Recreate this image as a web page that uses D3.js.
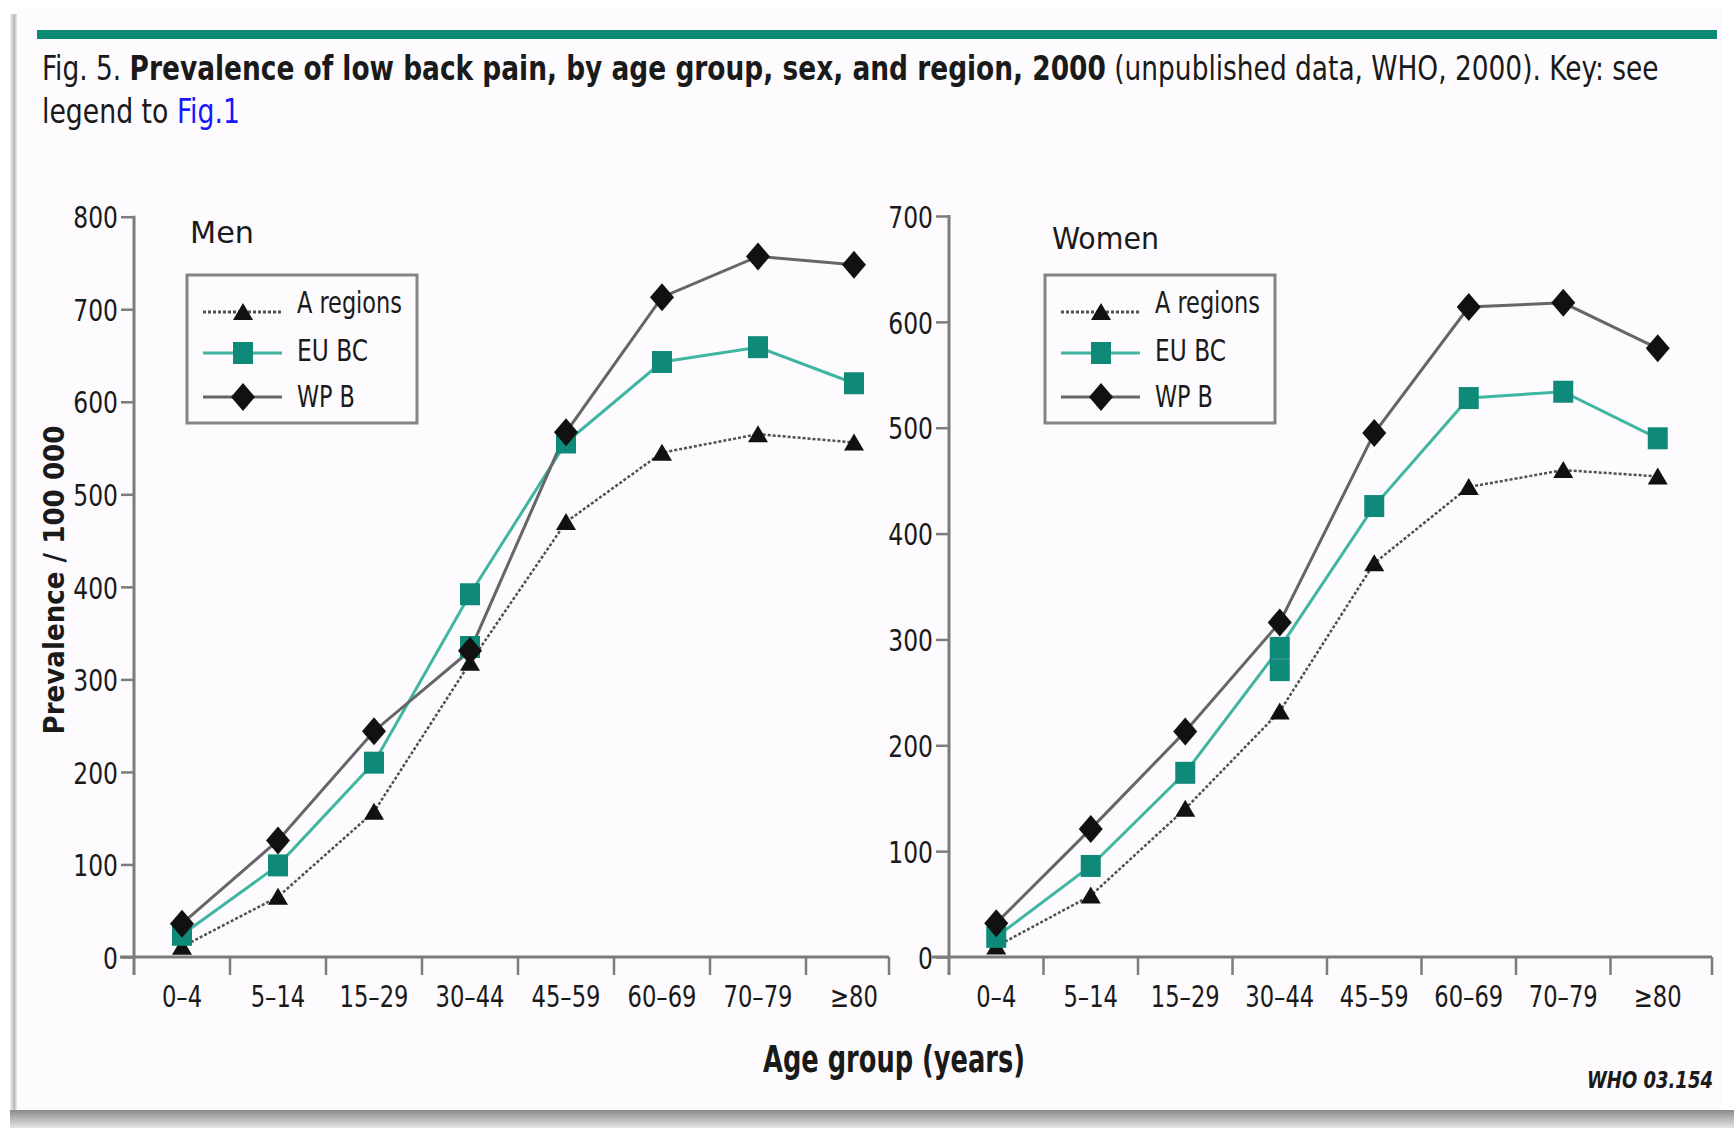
<!DOCTYPE html>
<html>
<head>
<meta charset="utf-8">
<script src="https://cdn.jsdelivr.net/npm/d3@7"></script>
<style>
  html, body { margin: 0; padding: 0; background: #fff; }
  svg { display: block; }
  text { font-family: "DejaVu Sans Condensed", "DejaVu Sans", sans-serif; font-stretch: condensed; }
</style>
</head>
<body>
<svg id="chart" width="1734" height="1128"></svg>
<script>
// ---- data ----
const ageGroups = ["0–4", "5–14", "15–29", "30–44", "45–59", "60–69", "70–79", "≥80"];

const menARegions = [11, 65, 157, 318, 470, 545, 565, 556];
const menEUBC     = [24, 99, 210, 392, 556, 643, 659, 620];
const menWPB      = [36, 126, 244, 331, 567, 713, 757, 748];
const menEUBCExtra = [["30–44", 335]];   // second square printed at 30–44

const womenARegions = [10, 58, 140, 232, 372, 444, 460, 454];
const womenEUBC     = [19, 86, 174, 292, 426, 528, 534, 490];
const womenWPB      = [32, 121, 213, 316, 495, 614, 618, 575];
const womenEUBCExtra = [["30–44", 271]];

const menTicks   = [0, 100, 200, 300, 400, 500, 600, 700, 800];
const womenTicks = [0, 100, 200, 300, 400, 500, 600, 700];

const seriesNames = ["A regions", "EU BC", "WP B"];

// ---- drawing ----
const w = 1734, h = 1128;
const base = 957;      // y of the zero line, both panels
const axisBottomY = 975;
const ink = "#1a1a1a";
const axisCol = "#7c7c7c";
const tealMark = "#0f8a78";
const tealLine = "#3fb5a2";
const grayLine = "#666";
const k = 0.84;        // horizontal squeeze for the condensed face

const svg = d3.select("#chart");

// put a text in a group, then squeeze the group to the width seen in the figure
const squeeze = (g, x, y, width, extra) => {
  const bw = g.node().getBBox().width;
  g.attr("transform", `translate(${x},${y})${extra || ""} scale(${width / bw},1)`);
};

const defs = svg.append("defs");
const gB = defs.append("linearGradient").attr("id", "shadowB").attr("x1", 0).attr("x2", 0).attr("y1", 0).attr("y2", 1);
gB.append("stop").attr("offset", 0).attr("stop-color", "#8a8a8a");
gB.append("stop").attr("offset", 1).attr("stop-color", "#e6e6e6");
const gL = defs.append("linearGradient").attr("id", "shadowL");
gL.append("stop").attr("offset", 0).attr("stop-color", "#f2f2f2");
gL.append("stop").attr("offset", 0.6).attr("stop-color", "#b9b9b9");
gL.append("stop").attr("offset", 1).attr("stop-color", "#e9e9e9");

svg.append("rect").attr("width", w).attr("height", h).attr("fill", "#fff");
svg.append("rect").attr("x", 10).attr("y", 14).attr("width", 7).attr("height", 1098).attr("fill", "url(#shadowL)");
svg.append("rect").attr("x", 17).attr("y", 8).attr("width", 1705).attr("height", 1102).attr("fill", "#fdfbfd");
svg.append("rect").attr("x", 10).attr("y", 1110).attr("width", 1724).attr("height", 18).attr("fill", "url(#shadowB)");

// top rule
svg.append("rect").attr("x", 37).attr("y", 30).attr("width", 1680).attr("height", 9).attr("fill", "#0b8a75");

// caption
const c1 = svg.append("g");
const t1 = c1.append("text").attr("font-size", 34).attr("fill", ink);
t1.append("tspan").text("Fig. 5. ");
t1.append("tspan").attr("font-weight", "bold").text("Prevalence of low back pain, by age group, sex, and region, 2000");
t1.append("tspan").text(" (unpublished data, WHO, 2000). Key: see");
squeeze(c1, 42, 80, 1617);

const c2 = svg.append("g");
const t2 = c2.append("text").attr("font-size", 34).attr("fill", ink);
t2.append("tspan").text("legend to ");
t2.append("tspan").attr("fill", "#1616ff").text("Fig.1");
squeeze(c2, 42, 123, 198);

// marker shapes
const shapes = {
  tri: "M0,-9L10,8L-10,8Z",
  sq: "M-10,-11H10V11H-10Z",
  dia: "M0,-14L12,0L0,14L-12,0Z"
};

const panels = [
  { name: "Men", a: menARegions, eu: menEUBC, wp: menWPB, extra: menEUBCExtra,
    ticks: menTicks, max: 800, left: 134, step: 96, axisStart: 120, axisEnd: 889,
    top: 216.7, legendX: 187, labelX: 190, labelY: 243, labelW: 64 },
  { name: "Women", a: womenARegions, eu: womenEUBC, wp: womenWPB, extra: womenEUBCExtra,
    ticks: womenTicks, max: 700, left: 949, step: 94.5, axisStart: 932, axisEnd: 1712,
    top: 216, legendX: 1045, labelX: 1052, labelY: 249, labelW: 107 }
];

panels.forEach(p => {
  const g = svg.append("g");

  const x = d3.scaleBand()
    .domain(ageGroups)
    .range([p.left, p.left + p.step * ageGroups.length])
    .paddingInner(0).paddingOuter(0);

  const y = d3.scaleLinear()
    .domain([0, p.max])
    .range([base, p.top]);

  // y axis
  const yAxis = d3.axisLeft(y).tickValues(p.ticks).tickSize(13).tickPadding(3).tickSizeOuter(0);
  const ya = g.append("g").attr("transform", `translate(${p.left},0)`).call(yAxis);
  ya.select(".domain").remove();
  ya.selectAll(".tick line").attr("stroke", axisCol).attr("stroke-width", 2.5);
  ya.selectAll(".tick text").attr("font-size", 31).attr("fill", ink)
    .attr("font-family", null).attr("dy", "0.36em")
    .attr("x", -16 / k).attr("transform", `scale(${k},1)`);
  g.append("line").attr("x1", p.left).attr("x2", p.left).attr("y1", p.top - 1).attr("y2", axisBottomY)
    .attr("stroke", axisCol).attr("stroke-width", 3);

  // x axis: line, boundary ticks, centred labels
  g.append("line").attr("x1", p.axisStart).attr("x2", p.axisEnd).attr("y1", base).attr("y2", base)
    .attr("stroke", axisCol).attr("stroke-width", 3);
  g.selectAll(".xb").data(ageGroups.slice(1).concat(["end"]))
    .join("line")
    .attr("x1", (d, i) => i < ageGroups.length - 1 ? x(d) : p.axisEnd)
    .attr("x2", (d, i) => i < ageGroups.length - 1 ? x(d) : p.axisEnd)
    .attr("y1", base).attr("y2", axisBottomY)
    .attr("stroke", axisCol).attr("stroke-width", 2.5);
  const xAxis = d3.axisBottom(x).tickSize(0).tickPadding(0);
  const xa = g.append("g").attr("transform", `translate(0,${base})`).call(xAxis);
  xa.select(".domain").remove();
  xa.selectAll(".tick text").attr("font-size", 30).attr("fill", ink)
    .attr("font-family", null).attr("dy", null).attr("y", 50)
    .attr("transform", `scale(${k},1)`);

  const pts = vals => vals.map((v, i) => [x(ageGroups[i]) + x.bandwidth() / 2, y(v)]);
  const line = d3.line();

  // A regions: dotted
  g.append("path").attr("d", line(pts(p.a))).attr("fill", "none")
    .attr("stroke", "#505050").attr("stroke-width", 2.5).attr("stroke-dasharray", "3,2");
  // EU BC
  g.append("path").attr("d", line(pts(p.eu))).attr("fill", "none")
    .attr("stroke", tealLine).attr("stroke-width", 3);
  // WP B
  g.append("path").attr("d", line(pts(p.wp))).attr("fill", "none")
    .attr("stroke", grayLine).attr("stroke-width", 3);

  g.selectAll(".mA").data(pts(p.a)).join("path")
    .attr("d", shapes.tri).attr("fill", "#111")
    .attr("transform", d => `translate(${d[0]},${d[1]})`);
  g.selectAll(".mE").data(pts(p.eu).concat(p.extra.map(e => [x(e[0]) + x.bandwidth() / 2, y(e[1])])))
    .join("path")
    .attr("d", shapes.sq).attr("fill", tealMark)
    .attr("transform", d => `translate(${d[0]},${d[1]})`);
  g.selectAll(".mW").data(pts(p.wp)).join("path")
    .attr("d", shapes.dia).attr("fill", "#111")
    .attr("transform", d => `translate(${d[0]},${d[1]})`);

  // panel title
  const pt = g.append("g");
  pt.append("text").attr("font-size", 31).attr("fill", ink).text(p.name);
  squeeze(pt, p.labelX, p.labelY, p.labelW);

  // legend
  const lg = g.append("g").attr("transform", `translate(${p.legendX},275)`);
  lg.append("rect").attr("width", 230).attr("height", 148)
    .attr("fill", "none").attr("stroke", "#858585").attr("stroke-width", 3);
  const rows = [37, 78, 122];
  const textRows = [38, 86, 132];
  const legStyle = [
    { stroke: "#505050", dash: "3,2", shape: shapes.tri, fill: "#111", tw: 105 },
    { stroke: tealLine, dash: null, shape: shapes.sq, fill: tealMark, tw: 71 },
    { stroke: grayLine, dash: null, shape: shapes.dia, fill: "#111", tw: 58 }
  ];
  seriesNames.forEach((s, i) => {
    const st = legStyle[i];
    lg.append("line").attr("x1", 16).attr("x2", 95).attr("y1", rows[i]).attr("y2", rows[i])
      .attr("stroke", st.stroke).attr("stroke-width", 3).attr("stroke-dasharray", st.dash);
    lg.append("path").attr("d", st.shape).attr("fill", st.fill)
      .attr("transform", `translate(56,${rows[i]})`);
    const lt = lg.append("g");
    lt.append("text").attr("font-size", 30).attr("fill", ink).text(s);
    squeeze(lt, 110, textRows[i], st.tw);
  });
});

// axis titles
const yl = svg.append("g");
yl.append("text").attr("text-anchor", "middle")
  .style("font-family", "'DejaVu Sans', sans-serif").style("font-stretch", "normal")
  .attr("font-weight", "bold").attr("font-size", 28).attr("fill", ink)
  .text("Prevalence / 100 000");
squeeze(yl, 64, 580, 309, " rotate(-90)");

const xl = svg.append("g");
xl.append("text").attr("text-anchor", "middle")
  .attr("font-weight", "bold").attr("font-size", 37).attr("fill", ink)
  .text("Age group (years)");
squeeze(xl, 894, 1072, 262);

const wl = svg.append("g");
wl.append("text")
  .attr("font-style", "italic").attr("font-weight", "bold").attr("font-size", 23).attr("fill", ink)
  .text("WHO 03.154");
squeeze(wl, 1587, 1088, 126);
</script>
</body>
</html>
